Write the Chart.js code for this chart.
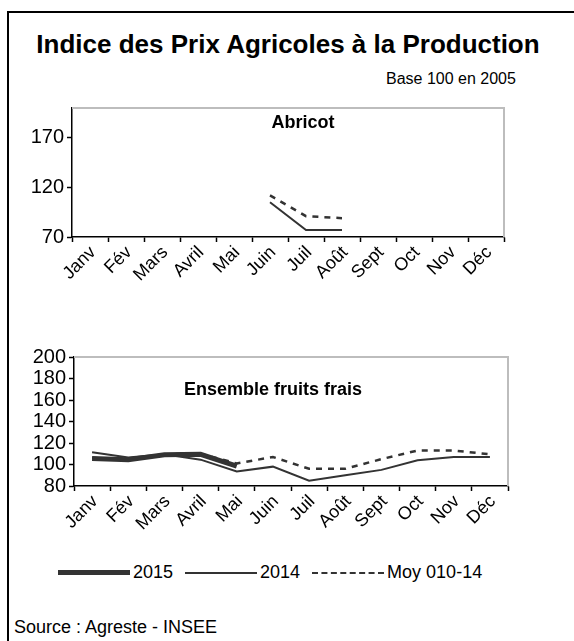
<!DOCTYPE html>
<html>
<head>
<meta charset="utf-8">
<script src="https://cdn.jsdelivr.net/npm/chart.js@4.4.1/dist/chart.umd.min.js"></script>
<style>
  body { margin: 0; background: #fff; font-family: "Liberation Sans", Arial, sans-serif; color: #000; }
  #page { position: relative; width: 574px; height: 641px; overflow: hidden; }
  #frame { position: absolute; left: 7px; top: 11px; width: 600px; height: 700px; border-left: 2px solid #000; border-top: 2px solid #000; }
  .txt { position: absolute; white-space: nowrap; }
  canvas { position: absolute; }
  #legend { position: absolute; left: 58px; top: 562px; display: flex; align-items: center; font-size: 18px; }
  #legend .sample { display: inline-block; width: 72px; height: 0; }
  #legend .lbl { margin: 0 12px 0 3px; }
</style>
</head>
<body>
<div id="page">
  <div id="frame"></div>
  <div class="txt" style="left:0;width:576px;text-align:center;top:29px;font-size:26px;font-weight:bold;">Indice des Prix Agricoles à la Production</div>
  <div class="txt" style="left:386px;top:70px;font-size:16px;">Base 100 en 2005</div>
  <canvas id="abricotChart"></canvas>
  <canvas id="fruitsChart"></canvas>
  <div class="txt" style="left:0;width:606px;text-align:center;top:112px;font-size:18px;font-weight:bold;">Abricot</div>
  <div class="txt" style="left:0;width:546px;text-align:center;top:379px;font-size:18px;font-weight:bold;">Ensemble fruits frais</div>
  <div id="legend"></div>
  <div class="txt" style="left:14px;top:617px;font-size:18px;">Source : Agreste - INSEE</div>
</div>
<script>
// ----- Data -----
const MONTHS = ['Janv', 'Fév', 'Mars', 'Avril', 'Mai', 'Juin', 'Juil', 'Août', 'Sept', 'Oct', 'Nov', 'Déc'];
const SERIES = ['2015', '2014', 'Moy 010-14'];

const ABRICOT_2014 = [null, null, null, null, null, 105, 77, 77, null, null, null, null];
const ABRICOT_MOY  = [null, null, null, null, null, 112, 91, 89, null, null, null, null];
const ABRICOT_TICKS = [70, 120, 170];

const FRUITS_2015 = [105.5, 104.5, 109, 109.5, 98.5, null, null, null, null, null, null, null];
const FRUITS_2014 = [111.5, 106.5, 109.5, 104.5, 93.5, 98, 85, 90, 95, 104, 107, 107];
const FRUITS_MOY  = [106, 105, 109.5, 110, 101, 107, 96, 96, 105, 113, 113, 109.5];
const FRUITS_TICKS = [80, 100, 120, 140, 160, 180, 200];

const LINE = '#333';
const FONT = '"Liberation Sans", Arial, sans-serif';

// styles per series
const STYLE = {
  '2015': { borderWidth: 5, borderDash: [] },
  '2014': { borderWidth: 2, borderDash: [] },
  'Moy 010-14': { borderWidth: 2.5, borderDash: [6, 6] },
};

function ds(label, data) {
  return { label, data, borderColor: LINE, backgroundColor: LINE, pointRadius: 0, tension: 0,
    spanGaps: false, borderJoinStyle: 'miter', ...STYLE[label] };
}

// gray top/right plot border
const plotFrame = {
  id: 'plotFrame',
  beforeDatasetsDraw(chart) {
    const { ctx, chartArea: a } = chart;
    ctx.save();
    ctx.strokeStyle = '#bdbdbd';
    ctx.lineWidth = 2;
    ctx.beginPath();
    ctx.moveTo(a.left, a.top);
    ctx.lineTo(a.right, a.top);
    ctx.lineTo(a.right, a.bottom);
    ctx.stroke();
    ctx.restore();
  }
};

function makeChart(id, box, datasets, yMin, yMax, yTicks) {
  const el = document.getElementById(id);
  el.style.left = '0px';
  el.style.top = box.top + 'px';
  el.width = 574;
  el.height = box.height;
  el.style.width = '574px';
  el.style.height = box.height + 'px';
  return new Chart(el, {
    type: 'line',
    data: { labels: MONTHS, datasets },
    plugins: [plotFrame],
    options: {
      responsive: false,
      animation: false,
      layout: { padding: { left: 0, right: 574 - box.right, top: box.padTop, bottom: 0 } },
      plugins: { legend: { display: false }, tooltip: { enabled: false } },
      scales: {
        x: {
          offset: true,
          grid: { offset: true, drawOnChartArea: false, color: '#000', tickLength: 5, tickWidth: 1.5 },
          border: { color: '#000', width: 1.5 },
          ticks: { color: '#000', font: { family: FONT, size: 18 }, minRotation: 45, maxRotation: 45, padding: 0, labelOffset: 3, autoSkip: false },
          afterFit: s => { s.height = box.xHeight; }
        },
        y: {
          min: yMin, max: yMax,
          afterBuildTicks: s => { s.ticks = yTicks.map(v => ({ value: v })); },
          grid: { drawOnChartArea: false, color: '#000', tickLength: 5, tickWidth: 1.5 },
          border: { color: '#000', width: 1.5 },
          ticks: { color: '#000', font: { family: FONT, size: 20 }, padding: 3, autoSkip: false },
          afterFit: s => { s.width = box.left; }
        }
      }
    }
  });
}

window.addEventListener('DOMContentLoaded', () => {
  // ----- Abricot -----
  makeChart('abricotChart', { top: 93, height: 202, padTop: 0, left: 72, right: 504, xHeight: 58 },
    [ds('2014', ABRICOT_2014), ds('Moy 010-14', ABRICOT_MOY)], 70, 200, ABRICOT_TICKS);

  // ----- Ensemble fruits frais -----
  makeChart('fruitsChart', { top: 342, height: 214, padTop: 0, left: 74, right: 508, xHeight: 70 },
    [ds('2015', FRUITS_2015), ds('2014', FRUITS_2014), ds('Moy 010-14', FRUITS_MOY)], 80, 200, FRUITS_TICKS);

  // ----- Legend -----
  const leg = document.getElementById('legend');
  leg.innerHTML = SERIES.map(name => {
    const st = STYLE[name];
    const dashed = st.borderDash.length ? 'dashed' : 'solid';
    return `<span class="sample" style="border-top:${st.borderWidth}px ${dashed} ${LINE}"></span><span class="lbl">${name}</span>`;
  }).join('');
});
</script>
</body>
</html>
